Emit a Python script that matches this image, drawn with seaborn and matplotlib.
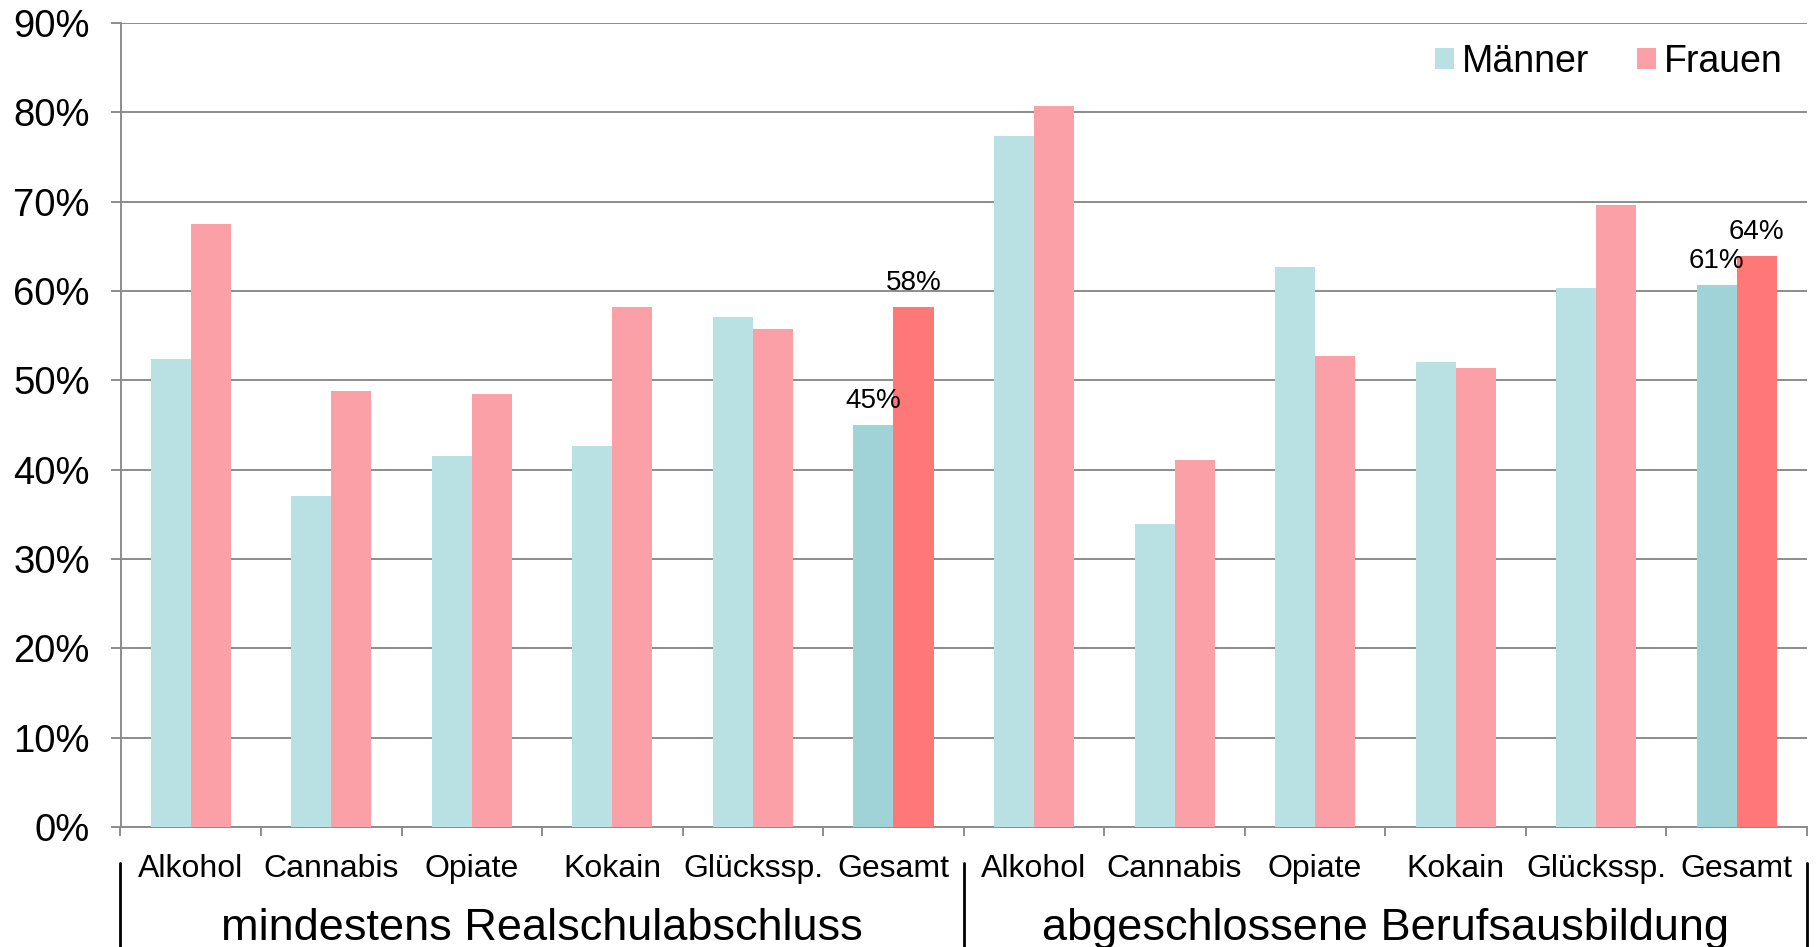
import matplotlib
matplotlib.use("Agg")
import matplotlib.pyplot as plt
import matplotlib.transforms as mtransforms
from matplotlib.lines import Line2D
from matplotlib.patches import Patch
import seaborn as sns
import pandas as pd
import numpy as np

# ---- data ----
categories = ["Alkohol", "Cannabis", "Opiate", "Kokain", "Glückssp.", "Gesamt"]
groups = ["mindestens Realschulabschluss", "abgeschlossene Berufsausbildung"]
maenner_real = [52.4, 37.1, 41.5, 42.6, 57.1, 45.0]
frauen_real = [67.5, 48.8, 48.5, 58.2, 55.8, 58.2]
maenner_beruf = [77.4, 33.9, 62.7, 52.0, 60.3, 60.7]
frauen_beruf = [80.7, 41.1, 52.7, 51.4, 69.6, 63.9]
series = ["Männer", "Frauen"]
yticks = [0, 10, 20, 30, 40, 50, 60, 70, 80, 90]

# ---- table ----
rows = []
labels = []
pos = 0
for g, (m, f) in zip(groups, [(maenner_real, frauen_real), (maenner_beruf, frauen_beruf)]):
    for c, mv, fv in zip(categories, m, f):
        key = f"{pos:02d}"
        rows.append({"key": key, "sex": "Männer", "val": mv})
        rows.append({"key": key, "sex": "Frauen", "val": fv})
        labels.append(c)
        pos += 1
df = pd.DataFrame(rows)
order = [f"{i:02d}" for i in range(pos)]

sns.set_theme(style="white")
plt.rcParams["font.family"] = ["Liberation Sans", "DejaVu Sans"]
plt.rcParams["text.color"] = "black"
plt.rcParams["xtick.color"] = "black"
plt.rcParams["ytick.color"] = "black"

fig = plt.figure(figsize=(18.16, 9.47), dpi=100)
ax = fig.add_axes([120.5 / 1816, 1 - 827 / 947, (1807 - 120.5) / 1816, (827 - 23) / 947])

light = {"Männer": "#B9E0E3", "Frauen": "#FCA0A8"}
dark = {"Männer": "#9FD3D7", "Frauen": "#FF7878"}

sns.barplot(data=df, x="key", y="val", hue="sex", order=order, hue_order=series,
            palette=light, width=0.57, saturation=1, ax=ax, legend=False,
            linewidth=0, edgecolor="none", zorder=3)

# darken "Gesamt" bars and add labels
for cont, s in zip(ax.containers, series):
    for i, bar in enumerate(cont):
        bar.set_linewidth(0)
        if labels[i] == "Gesamt":
            bar.set_facecolor(dark[s])
            h = bar.get_height()
            ax.annotate(f"{h:.0f}%", (bar.get_x() + bar.get_width() / 2, h),
                        xytext=(0, 24), textcoords="offset pixels",
                        ha="center", va="center", fontsize=20, color="black",
                        zorder=5)

ax.set_ylim(0, 90)
ax.set_xlim(-0.5, pos - 0.5)
ax.set_yticks(yticks)
ax.set_yticklabels([f"{t}%" for t in yticks], fontsize=27.5, color="black")
ax.yaxis.grid(True, color="#8C8C8C", linewidth=1.4, zorder=0)
ax.set_axisbelow(True)
ax.tick_params(axis="y", length=7.5, width=1.4, color="#8C8C8C", pad=14.5, left=True,
               labelcolor="black")

# x ticks: boundaries only
ax.set_xticks(np.arange(-0.5, pos, 1.0))
ax.set_xticklabels([])
ax.tick_params(axis="x", length=6.5, width=1.4, color="#8C8C8C", bottom=True)
ax.set_xlabel("")
ax.set_ylabel("")

for sp in ["top", "right"]:
    ax.spines[sp].set_visible(False)
ax.spines["left"].set_color("#8C8C8C")
ax.spines["left"].set_linewidth(1.4)
ax.spines["bottom"].set_color("#8C8C8C")
ax.spines["bottom"].set_linewidth(1.4)

trans = mtransforms.blended_transform_factory(ax.transData, ax.transAxes)
axh = 827 - 23
for i, lab in enumerate(labels):
    ax.text(i, -(868.5 - 827) / axh, lab, transform=trans, ha="center", va="center",
            fontsize=23, color="black")
for gi, g in enumerate(groups):
    ax.text(gi * 6 + 2.5, -(928.5 - 827) / axh, g, transform=trans, ha="center",
            va="center", fontsize=32.5, color="black")
for xb in [-0.5, 5.5, 11.5]:
    ax.add_line(Line2D([xb, xb], [-(863 - 827) / axh, -(950 - 827) / axh],
                       transform=trans, color="black", linewidth=2, clip_on=False))

handles = [Patch(facecolor=light[s], edgecolor="none", label=s) for s in series]
leg = ax.legend(handles=handles, loc="center right", bbox_to_anchor=(0.9858, 0.952),
                ncol=2, frameon=False, fontsize=27, handlelength=0.5, handleheight=0.5,
                handletextpad=0.22, columnspacing=1.28, borderaxespad=0, borderpad=0)
for t in leg.get_texts():
    t.set_color("black")

fig.savefig("out.png", dpi=100, facecolor="white")
